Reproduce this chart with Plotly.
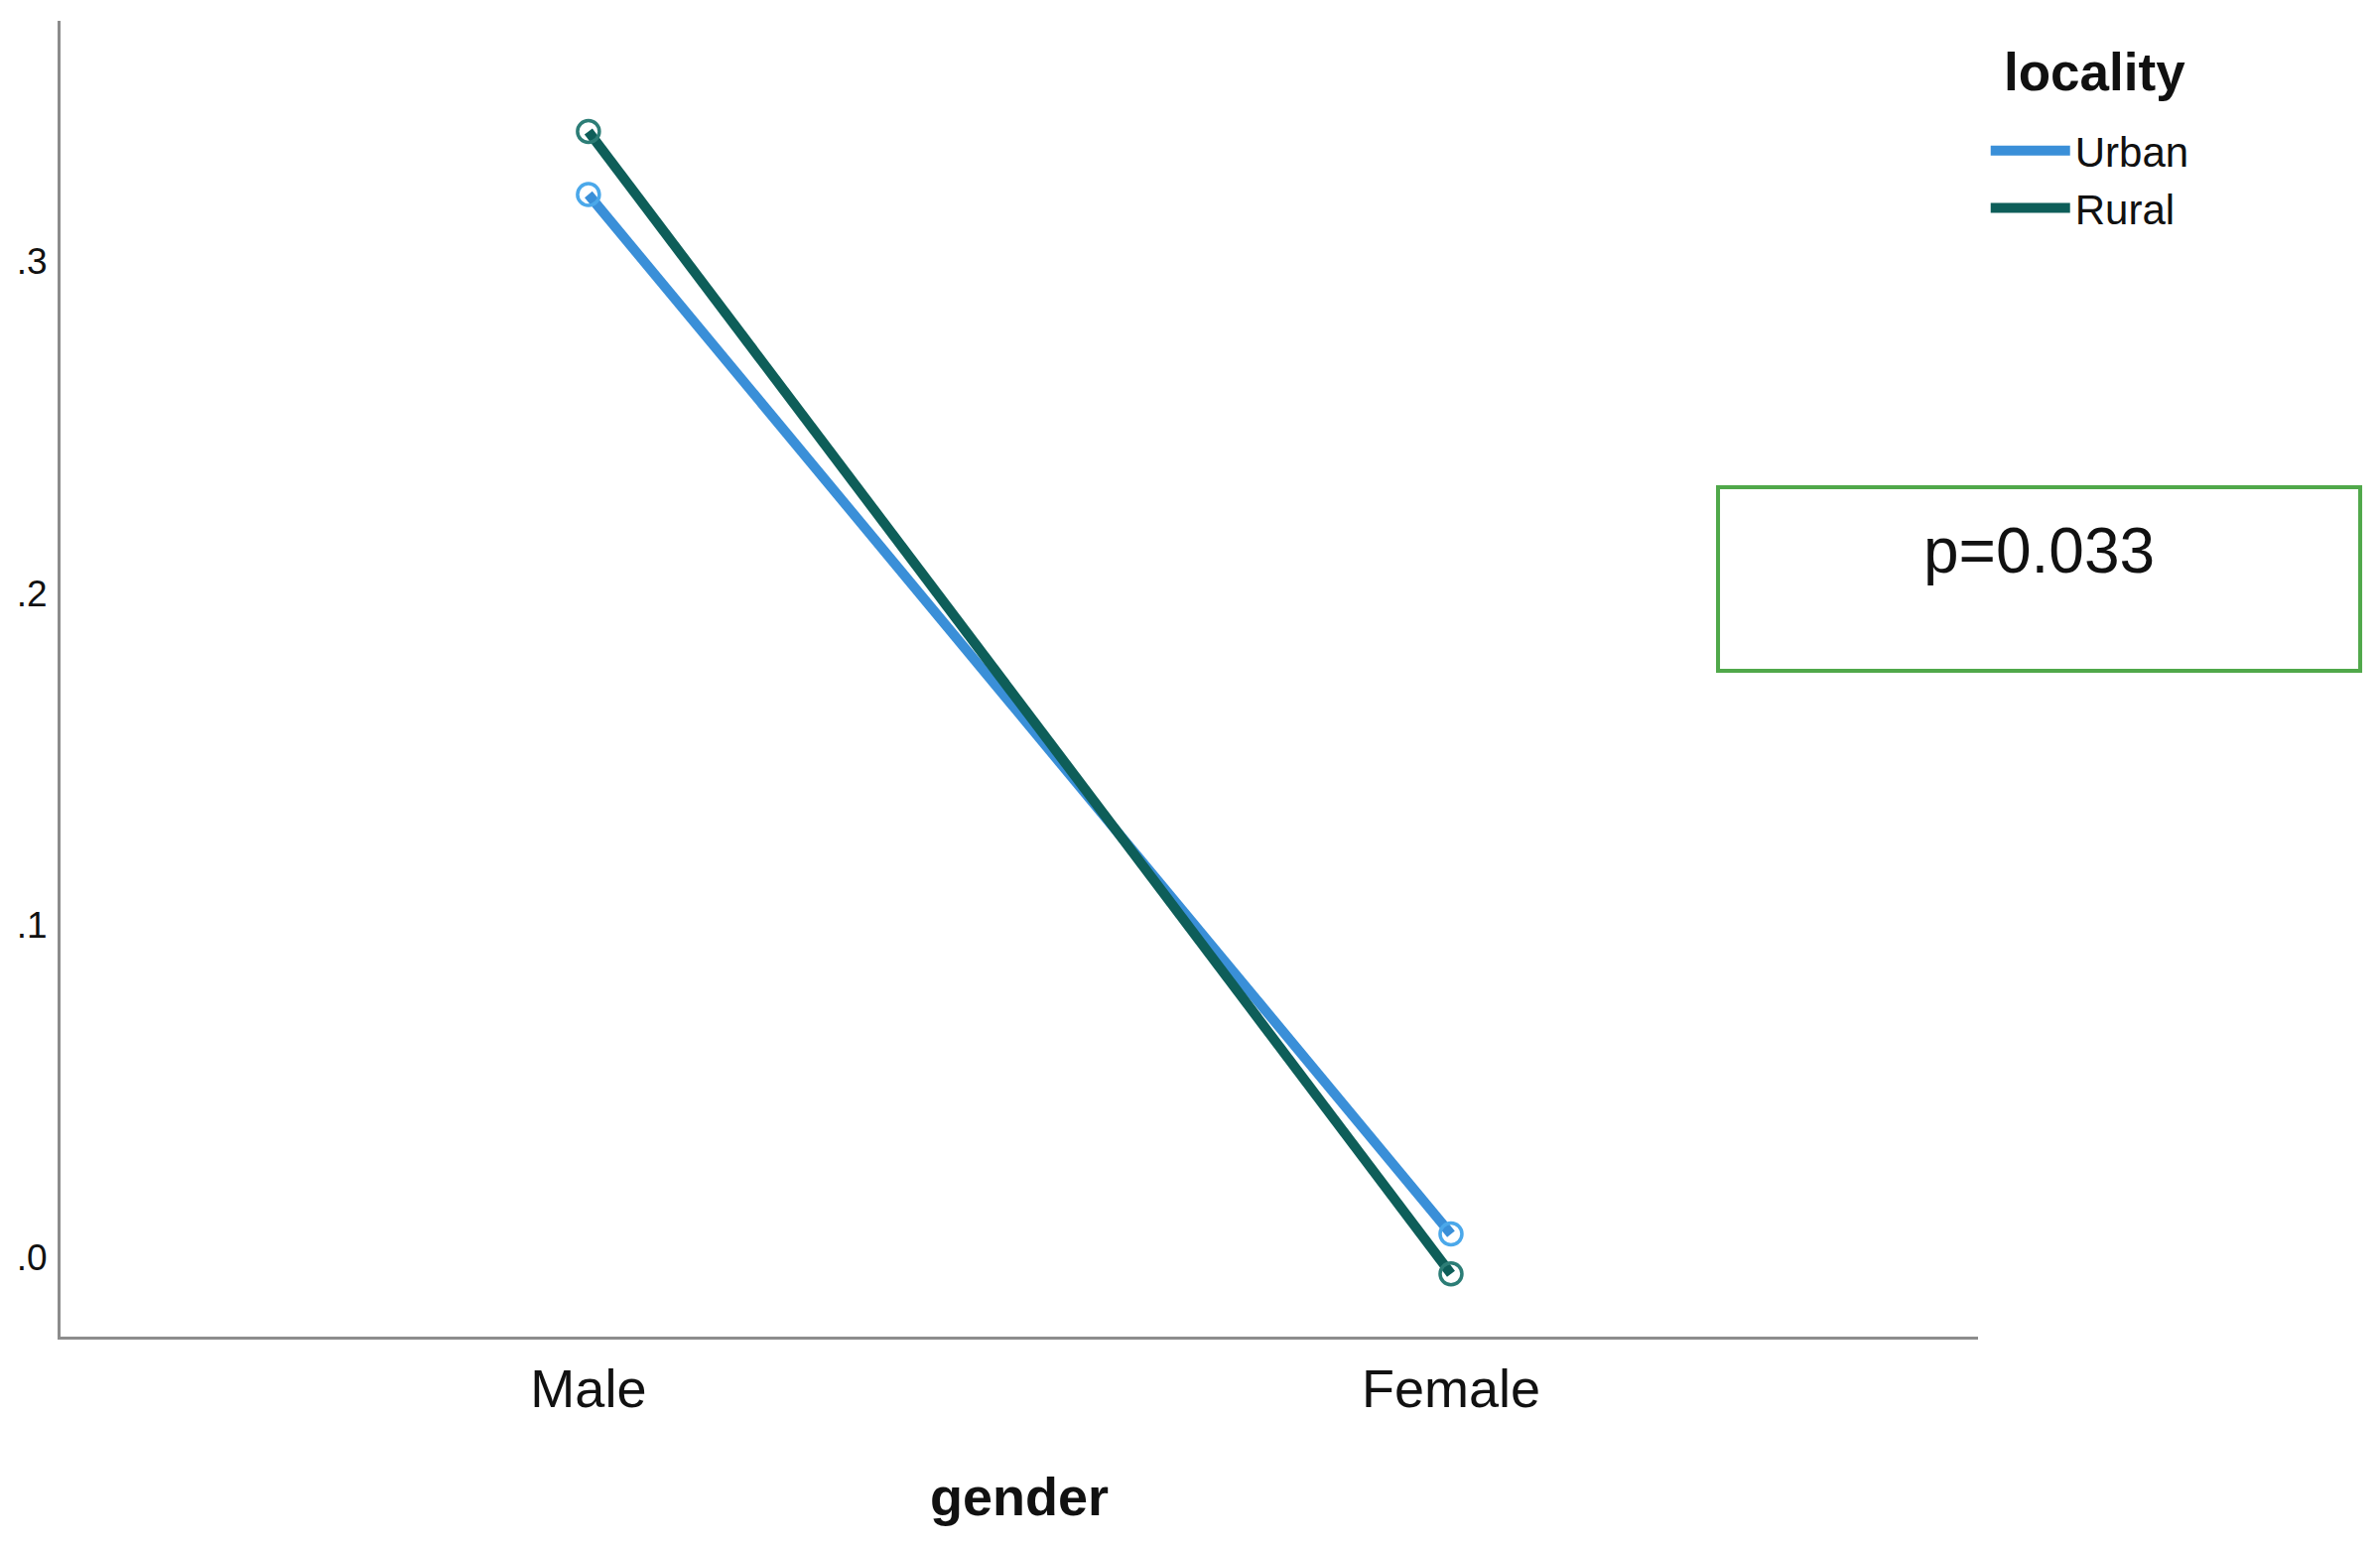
import plotly.graph_objects as go

# ---- data ----
genders = ["Male", "Female"]
urban = [0.320, 0.007]
rural = [0.339, -0.005]
series_names = ["Urban", "Rural"]
y_tickvals = [0.0, 0.1, 0.2, 0.3]
y_ticktext = [".0", ".1", ".2", ".3"]
legend_title = "locality"
x_title = "gender"
p_label = "p=0.033"

line_colors = ["#3A8FD8", "#0E5E59"]
marker_colors = ["#4BA8EA", "#2C7D76"]

FONT = "Liberation Sans, Arial, sans-serif"

fig = go.Figure()
for name, vals, lc in zip(series_names, [urban, rural], line_colors):
    fig.add_trace(go.Scatter(
        x=genders, y=vals, mode="lines", name=name,
        line=dict(color=lc, width=10),
        showlegend=True,
    ))
for name, vals, mc in zip(series_names, [urban, rural], marker_colors):
    fig.add_trace(go.Scatter(
        x=genders, y=vals, mode="markers", name=name,
        marker=dict(symbol="circle-open", size=22, color=mc, line=dict(width=3.5, color=mc)),
        showlegend=False, hoverinfo="skip",
    ))

axis_color = "#8C8C8C"

fig.update_layout(
    width=2398, height=1559, autosize=False,
    margin=dict(l=53, r=413, t=13, b=220),
    paper_bgcolor="white", plot_bgcolor="white",
    font=dict(family=FONT, color="#111111"),
    legend=dict(
        x=1.004, xanchor="left", y=0.9268, yanchor="top",
        font=dict(size=42, family=FONT),
        itemwidth=80,
        bgcolor="rgba(0,0,0,0)",
    ),
    xaxis=dict(
        type="category", categoryorder="array", categoryarray=genders,
        range=[-0.612, 1.611], automargin=False,
        showline=True, linecolor=axis_color, linewidth=3,
        showgrid=False, zeroline=False, ticks="",
        tickfont=dict(size=54, family=FONT, color="#111111"),
        ticklabelstandoff=3,
        title=dict(text="<b>" + x_title + "</b>", font=dict(size=54, family=FONT, color="#111111"), standoff=62),
    ),
    yaxis=dict(
        range=[-0.0239, 0.3723], automargin=False,
        tickvals=y_tickvals, ticktext=y_ticktext,
        showline=True, linecolor=axis_color, linewidth=3,
        showgrid=False, zeroline=False, ticks="",
        tickfont=dict(size=37, family=FONT, color="#111111"),
        ticklabelstandoff=3,
    ),
)

# legend title
fig.add_annotation(xref="paper", yref="paper", x=1.0606, y=0.9615,
                   text="<b>" + legend_title + "</b>", showarrow=False,
                   font=dict(size=53, family=FONT, color="#111111"),
                   xanchor="center", yanchor="middle")

# p-value box
fig.add_shape(type="rect", xref="paper", yref="paper",
              x0=0.8644, x1=1.1993, y0=0.506, y1=0.6456,
              line=dict(color="#50A84A", width=4), fillcolor="rgba(0,0,0,0)")
fig.add_annotation(xref="paper", yref="paper", x=1.0316, y=0.597,
                   text=p_label, showarrow=False,
                   font=dict(size=64, family=FONT, color="#111111"),
                   xanchor="center", yanchor="middle")

fig.write_html("out.html")
